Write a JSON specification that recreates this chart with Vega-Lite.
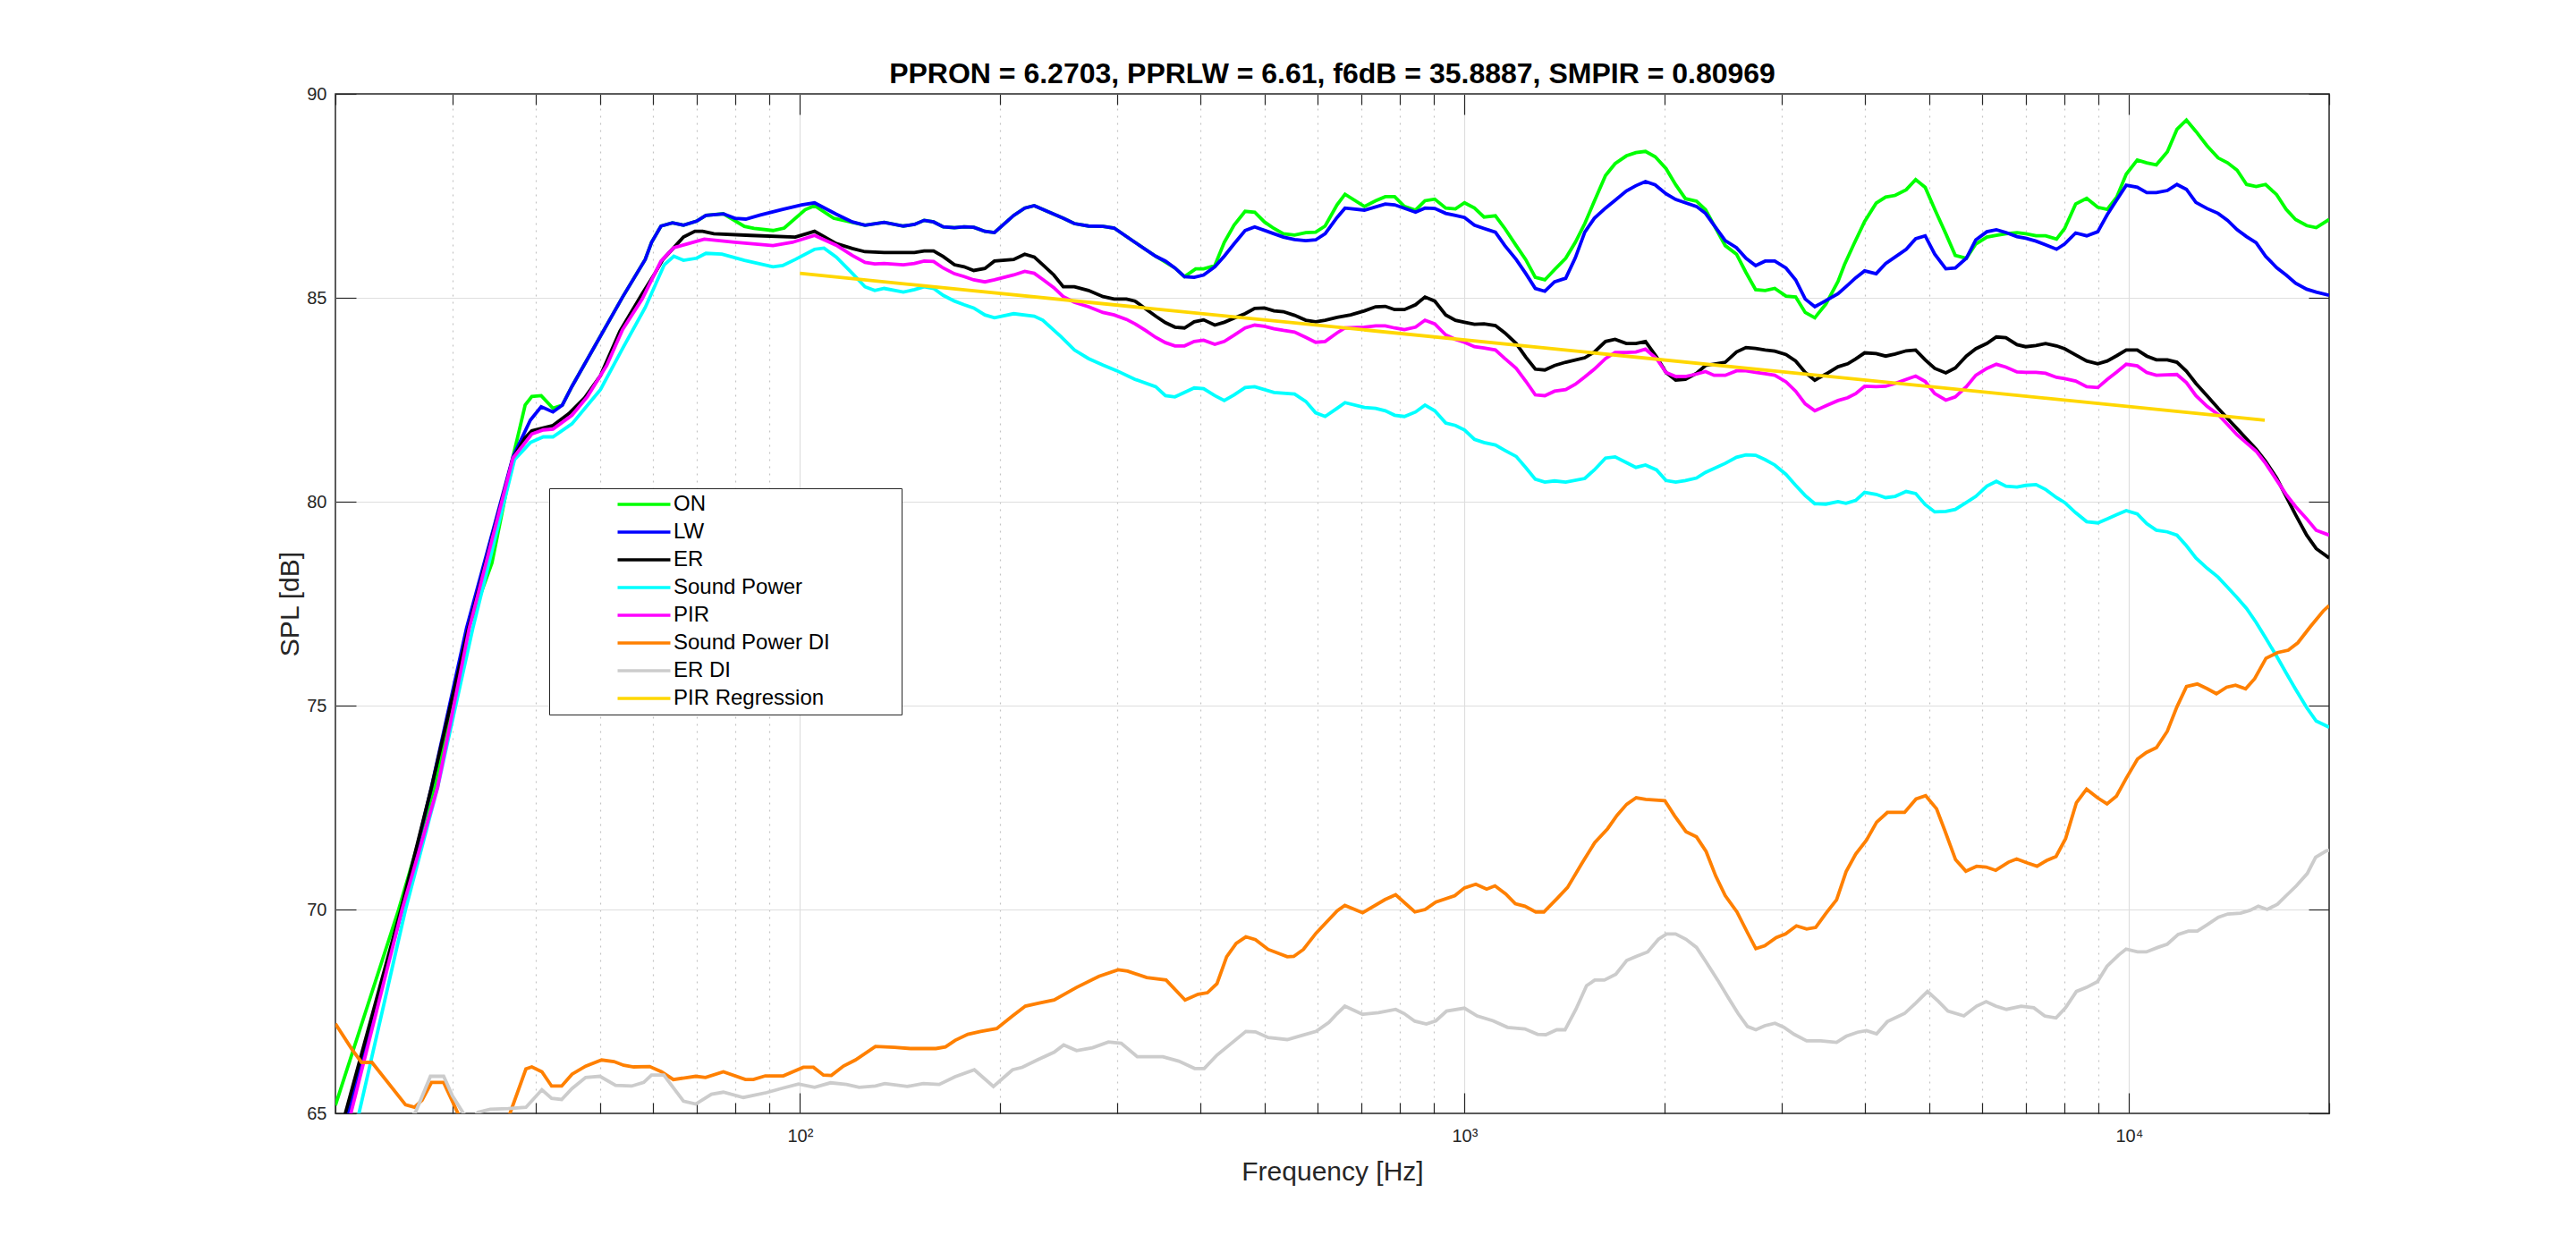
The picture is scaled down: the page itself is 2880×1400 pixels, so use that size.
{
"$schema": "https://vega.github.io/schema/vega-lite/v6.json",
"width": 2229,
"height": 1140,
"autosize": {"type": "none"},
"padding": {"left": 375, "top": 105, "right": 276, "bottom": 155},
"background": "white",
"title": {"text": "PPRON = 6.2703, PPRLW = 6.61, f6dB = 35.8887, SMPIR = 0.80969", "font": "Liberation Sans", "fontSize": 32, "fontWeight": "bold", "color": "black", "anchor": "middle", "frame": "group", "baseline": "alphabetic", "offset": -30},
"config": {
  "font": "Liberation Sans",
  "view": {"stroke": "#262626", "strokeWidth": 1.5},
  "axis": {"labelFont": "Liberation Sans", "labelFontSize": 20, "labelColor": "#262626", "titleFont": "Liberation Sans", "titleFontSize": 30, "titleFontWeight": "normal", "titleColor": "#262626", "domain": false, "tickColor": "#262626", "tickWidth": 1.2, "gridWidth": 1.2, "labelFlush": false, "labelOverlap": false}
},
"datasets": {
"ON": [{"f":20,"v":65.2},{"f":24.9,"v":70.0},{"f":28.2,"v":73.0},{"f":31.7,"v":76.9},{"f":34.4,"v":78.5},{"f":35.9,"v":80.0},{"f":37.0,"v":81.1},{"f":37.8,"v":81.74},{"f":38.6,"v":82.37},{"f":39.5,"v":82.58},{"f":40.8,"v":82.6},{"f":42.5,"v":82.29},{"f":43.9,"v":82.37},{"f":45.4,"v":82.83},{"f":54.1,"v":85.02},{"f":58.5,"v":85.94},{"f":59.8,"v":86.36},{"f":61.8,"v":86.76},{"f":64.3,"v":86.84},{"f":66.8,"v":86.78},{"f":69.9,"v":86.88},{"f":72.2,"v":87.02},{"f":76.7,"v":87.06},{"f":82.5,"v":86.75},{"f":85.3,"v":86.7},{"f":91.1,"v":86.65},{"f":94.7,"v":86.71},{"f":101.8,"v":87.16},{"f":105.2,"v":87.26},{"f":112.4,"v":86.95},{"f":119.9,"v":86.85},{"f":125.3,"v":86.78},{"f":133.9,"v":86.85},{"f":143.1,"v":86.76},{"f":148.7,"v":86.8},{"f":153.8,"v":86.9},{"f":158.9,"v":86.86},{"f":164.3,"v":86.74},{"f":170.8,"v":86.72},{"f":176.6,"v":86.74},{"f":182.6,"v":86.73},{"f":189.8,"v":86.63},{"f":196.2,"v":86.6},{"f":209.7,"v":87.02},{"f":217.9,"v":87.2},{"f":225.2,"v":87.26},{"f":235.5,"v":87.12},{"f":249,"v":86.95},{"f":258.8,"v":86.82},{"f":271.8,"v":86.76},{"f":285.8,"v":86.75},{"f":297,"v":86.71},{"f":319.3,"v":86.36},{"f":343,"v":86.02},{"f":366.7,"v":85.73},{"f":379,"v":85.52},{"f":394,"v":85.71},{"f":405,"v":85.71},{"f":421,"v":85.79},{"f":435,"v":86.36},{"f":450,"v":86.78},{"f":467.6,"v":87.12},{"f":483.4,"v":87.1},{"f":500,"v":86.86},{"f":516.8,"v":86.7},{"f":534,"v":86.57},{"f":555,"v":86.54},{"f":577,"v":86.6},{"f":597,"v":86.61},{"f":617,"v":86.76},{"f":643,"v":87.28},{"f":661,"v":87.54},{"f":707,"v":87.24},{"f":735,"v":87.38},{"f":760,"v":87.48},{"f":785,"v":87.48},{"f":812,"v":87.24},{"f":844,"v":87.15},{"f":872,"v":87.38},{"f":902,"v":87.42},{"f":937,"v":87.2},{"f":969,"v":87.18},{"f":1000,"v":87.33},{"f":1035,"v":87.2},{"f":1070,"v":86.98},{"f":1113,"v":87.01},{"f":1150,"v":86.7},{"f":1196,"v":86.28},{"f":1236,"v":85.94},{"f":1278,"v":85.5},{"f":1321,"v":85.44},{"f":1366,"v":85.69},{"f":1420,"v":85.97},{"f":1468,"v":86.36},{"f":1517,"v":86.82},{"f":1568,"v":87.37},{"f":1630,"v":88.0},{"f":1685,"v":88.29},{"f":1752,"v":88.48},{"f":1811,"v":88.56},{"f":1872,"v":88.59},{"f":1936,"v":88.46},{"f":2010,"v":88.17},{"f":2079,"v":87.77},{"f":2150,"v":87.43},{"f":2234,"v":87.37},{"f":2305,"v":87.16},{"f":2374,"v":86.78},{"f":2468,"v":86.28},{"f":2566,"v":86.07},{"f":2652,"v":85.62},{"f":2742,"v":85.2},{"f":2834,"v":85.18},{"f":2930,"v":85.23},{"f":3046,"v":85.04},{"f":3150,"v":85.02},{"f":3256,"v":84.64},{"f":3366,"v":84.51},{"f":3498,"v":84.85},{"f":3648,"v":85.4},{"f":3730,"v":85.81},{"f":3855,"v":86.32},{"f":4000,"v":86.87},{"f":4163,"v":87.32},{"f":4302,"v":87.47},{"f":4446,"v":87.51},{"f":4620,"v":87.65},{"f":4774,"v":87.9},{"f":4934,"v":87.71},{"f":5100,"v":87.17},{"f":5300,"v":86.57},{"f":5476,"v":86.04},{"f":5690,"v":85.97},{"f":5880,"v":86.32},{"f":6110,"v":86.49},{"f":6314,"v":86.53},{"f":6526,"v":86.57},{"f":6782,"v":86.6},{"f":6990,"v":86.57},{"f":7244,"v":86.52},{"f":7488,"v":86.52},{"f":7778,"v":86.44},{"f":8000,"v":86.7},{"f":8310,"v":87.3},{"f":8634,"v":87.44},{"f":8972,"v":87.22},{"f":9272,"v":87.17},{"f":9582,"v":87.47},{"f":9902,"v":88.03},{"f":10288,"v":88.38},{"f":10632,"v":88.31},{"f":10990,"v":88.26},{"f":11418,"v":88.58},{"f":11804,"v":89.13},{"f":12198,"v":89.36},{"f":12606,"v":89.08},{"f":13100,"v":88.73},{"f":13614,"v":88.43},{"f":14068,"v":88.31},{"f":14538,"v":88.13},{"f":15024,"v":87.78},{"f":15530,"v":87.73},{"f":16048,"v":87.78},{"f":16674,"v":87.53},{"f":17232,"v":87.17},{"f":17806,"v":86.92},{"f":18504,"v":86.77},{"f":19122,"v":86.72},{"f":20000,"v":86.92}],
"LW": [{"f":20,"v":63.8},{"f":20.9,"v":65.0},{"f":25.2,"v":70.0},{"f":27.9,"v":73.0},{"f":31.5,"v":76.9},{"f":37.0,"v":81.1},{"f":39.3,"v":82.0},{"f":40.8,"v":82.33},{"f":42.5,"v":82.2},{"f":43.9,"v":82.37},{"f":45.4,"v":82.83},{"f":54.1,"v":85.02},{"f":58.5,"v":85.94},{"f":59.8,"v":86.36},{"f":61.8,"v":86.76},{"f":64.3,"v":86.84},{"f":66.8,"v":86.78},{"f":69.9,"v":86.88},{"f":72.2,"v":87.02},{"f":76.7,"v":87.06},{"f":79.8,"v":86.95},{"f":82.9,"v":86.93},{"f":87.2,"v":87.03},{"f":94.2,"v":87.17},{"f":100.6,"v":87.28},{"f":105.2,"v":87.33},{"f":113.4,"v":87.05},{"f":119.9,"v":86.86},{"f":125.3,"v":86.78},{"f":133.9,"v":86.85},{"f":143.1,"v":86.76},{"f":148.7,"v":86.8},{"f":153.8,"v":86.9},{"f":158.9,"v":86.86},{"f":164.3,"v":86.74},{"f":170.8,"v":86.72},{"f":176.6,"v":86.74},{"f":182.6,"v":86.73},{"f":189.8,"v":86.63},{"f":196.2,"v":86.6},{"f":209.7,"v":87.02},{"f":217.9,"v":87.2},{"f":225.2,"v":87.26},{"f":235.5,"v":87.12},{"f":249,"v":86.95},{"f":258.8,"v":86.82},{"f":271.8,"v":86.76},{"f":285.8,"v":86.75},{"f":297,"v":86.71},{"f":319.3,"v":86.36},{"f":343,"v":86.02},{"f":354.8,"v":85.9},{"f":366.7,"v":85.73},{"f":379,"v":85.52},{"f":392,"v":85.5},{"f":405,"v":85.56},{"f":421,"v":85.76},{"f":435,"v":86.02},{"f":450,"v":86.32},{"f":467.6,"v":86.65},{"f":483.4,"v":86.74},{"f":516.8,"v":86.57},{"f":534,"v":86.49},{"f":555,"v":86.43},{"f":577,"v":86.4},{"f":597,"v":86.42},{"f":617,"v":86.57},{"f":643,"v":86.97},{"f":661,"v":87.2},{"f":707,"v":87.15},{"f":760,"v":87.3},{"f":785,"v":87.28},{"f":844,"v":87.1},{"f":872,"v":87.2},{"f":902,"v":87.19},{"f":937,"v":87.07},{"f":969,"v":87.02},{"f":1000,"v":86.97},{"f":1035,"v":86.78},{"f":1070,"v":86.7},{"f":1113,"v":86.61},{"f":1150,"v":86.28},{"f":1196,"v":85.94},{"f":1236,"v":85.6},{"f":1278,"v":85.23},{"f":1321,"v":85.16},{"f":1366,"v":85.39},{"f":1420,"v":85.48},{"f":1468,"v":85.98},{"f":1517,"v":86.61},{"f":1568,"v":86.95},{"f":1630,"v":87.2},{"f":1685,"v":87.39},{"f":1752,"v":87.62},{"f":1811,"v":87.75},{"f":1872,"v":87.85},{"f":1936,"v":87.77},{"f":2010,"v":87.55},{"f":2079,"v":87.41},{"f":2150,"v":87.33},{"f":2234,"v":87.24},{"f":2305,"v":87.07},{"f":2374,"v":86.78},{"f":2468,"v":86.4},{"f":2566,"v":86.23},{"f":2652,"v":85.97},{"f":2742,"v":85.79},{"f":2834,"v":85.9},{"f":2930,"v":85.9},{"f":3046,"v":85.73},{"f":3150,"v":85.44},{"f":3256,"v":84.97},{"f":3366,"v":84.78},{"f":3498,"v":84.93},{"f":3648,"v":85.1},{"f":3772,"v":85.31},{"f":3878,"v":85.49},{"f":4000,"v":85.66},{"f":4163,"v":85.59},{"f":4302,"v":85.84},{"f":4446,"v":86.0},{"f":4620,"v":86.19},{"f":4774,"v":86.45},{"f":4934,"v":86.52},{"f":5100,"v":86.07},{"f":5300,"v":85.71},{"f":5476,"v":85.73},{"f":5690,"v":85.97},{"f":5880,"v":86.42},{"f":6110,"v":86.62},{"f":6314,"v":86.67},{"f":6526,"v":86.6},{"f":6782,"v":86.5},{"f":6990,"v":86.46},{"f":7244,"v":86.39},{"f":7488,"v":86.3},{"f":7778,"v":86.19},{"f":8000,"v":86.32},{"f":8310,"v":86.59},{"f":8634,"v":86.52},{"f":8972,"v":86.62},{"f":9272,"v":87.04},{"f":9582,"v":87.4},{"f":9902,"v":87.76},{"f":10288,"v":87.71},{"f":10632,"v":87.58},{"f":10990,"v":87.58},{"f":11418,"v":87.63},{"f":11804,"v":87.78},{"f":12198,"v":87.66},{"f":12606,"v":87.34},{"f":13100,"v":87.19},{"f":13614,"v":87.07},{"f":14068,"v":86.9},{"f":14538,"v":86.67},{"f":15024,"v":86.5},{"f":15530,"v":86.35},{"f":16048,"v":86.02},{"f":16674,"v":85.74},{"f":17232,"v":85.56},{"f":17806,"v":85.36},{"f":18504,"v":85.21},{"f":19122,"v":85.14},{"f":20000,"v":85.06}],
"ER": [{"f":20,"v":64.1},{"f":20.7,"v":65.0},{"f":25.1,"v":70.0},{"f":27.9,"v":73.0},{"f":31.6,"v":76.8},{"f":37.0,"v":81.07},{"f":38.6,"v":81.57},{"f":39.5,"v":81.74},{"f":42.5,"v":81.87},{"f":44.9,"v":82.16},{"f":47.4,"v":82.54},{"f":50.1,"v":83.09},{"f":53.6,"v":84.18},{"f":57.9,"v":85.1},{"f":60.5,"v":85.6},{"f":62.2,"v":85.94},{"f":64.6,"v":86.23},{"f":66.8,"v":86.49},{"f":69.5,"v":86.63},{"f":71.4,"v":86.63},{"f":74.2,"v":86.57},{"f":84.3,"v":86.53},{"f":98.4,"v":86.49},{"f":102.3,"v":86.57},{"f":105.2,"v":86.63},{"f":113.4,"v":86.33},{"f":119.9,"v":86.21},{"f":125.3,"v":86.13},{"f":133.9,"v":86.11},{"f":148.7,"v":86.11},{"f":153.8,"v":86.15},{"f":158.9,"v":86.15},{"f":164.3,"v":86.01},{"f":170.8,"v":85.81},{"f":176.6,"v":85.76},{"f":182.6,"v":85.67},{"f":189.8,"v":85.72},{"f":196.2,"v":85.9},{"f":209.7,"v":85.94},{"f":217.9,"v":86.07},{"f":225.2,"v":86.0},{"f":232,"v":85.81},{"f":241,"v":85.56},{"f":249,"v":85.27},{"f":258.8,"v":85.27},{"f":271.8,"v":85.18},{"f":285.8,"v":85.03},{"f":297,"v":84.97},{"f":310,"v":84.97},{"f":319.3,"v":84.92},{"f":331.8,"v":84.72},{"f":343,"v":84.55},{"f":354.8,"v":84.39},{"f":366.7,"v":84.28},{"f":379,"v":84.26},{"f":392,"v":84.41},{"f":405,"v":84.46},{"f":421,"v":84.33},{"f":435,"v":84.4},{"f":450,"v":84.5},{"f":467.6,"v":84.61},{"f":483.4,"v":84.74},{"f":500,"v":84.75},{"f":516.8,"v":84.68},{"f":534,"v":84.66},{"f":555,"v":84.57},{"f":577,"v":84.45},{"f":597,"v":84.41},{"f":617,"v":84.45},{"f":643,"v":84.52},{"f":674,"v":84.58},{"f":707,"v":84.68},{"f":735,"v":84.78},{"f":760,"v":84.79},{"f":785,"v":84.71},{"f":812,"v":84.71},{"f":844,"v":84.83},{"f":872,"v":85.02},{"f":902,"v":84.92},{"f":937,"v":84.58},{"f":969,"v":84.45},{"f":1000,"v":84.4},{"f":1035,"v":84.35},{"f":1070,"v":84.36},{"f":1113,"v":84.32},{"f":1150,"v":84.14},{"f":1196,"v":83.88},{"f":1236,"v":83.55},{"f":1278,"v":83.25},{"f":1321,"v":83.23},{"f":1366,"v":83.34},{"f":1420,"v":83.42},{"f":1517,"v":83.53},{"f":1568,"v":83.67},{"f":1630,"v":83.93},{"f":1685,"v":83.98},{"f":1752,"v":83.88},{"f":1811,"v":83.88},{"f":1872,"v":83.93},{"f":1945,"v":83.55},{"f":2010,"v":83.17},{"f":2079,"v":82.98},{"f":2150,"v":83.0},{"f":2234,"v":83.15},{"f":2305,"v":83.34},{"f":2468,"v":83.42},{"f":2566,"v":83.67},{"f":2652,"v":83.78},{"f":2742,"v":83.76},{"f":2834,"v":83.72},{"f":2930,"v":83.69},{"f":3046,"v":83.61},{"f":3150,"v":83.45},{"f":3256,"v":83.17},{"f":3366,"v":82.98},{"f":3498,"v":83.13},{"f":3648,"v":83.31},{"f":3772,"v":83.38},{"f":3878,"v":83.5},{"f":4000,"v":83.65},{"f":4163,"v":83.63},{"f":4302,"v":83.57},{"f":4446,"v":83.62},{"f":4620,"v":83.7},{"f":4774,"v":83.72},{"f":4934,"v":83.48},{"f":5100,"v":83.27},{"f":5300,"v":83.16},{"f":5476,"v":83.28},{"f":5690,"v":83.57},{"f":5880,"v":83.75},{"f":6110,"v":83.88},{"f":6314,"v":84.04},{"f":6526,"v":84.02},{"f":6782,"v":83.85},{"f":6990,"v":83.8},{"f":7244,"v":83.83},{"f":7488,"v":83.88},{"f":7778,"v":83.82},{"f":8000,"v":83.75},{"f":8310,"v":83.6},{"f":8634,"v":83.45},{"f":8972,"v":83.38},{"f":9272,"v":83.45},{"f":9582,"v":83.58},{"f":9902,"v":83.72},{"f":10288,"v":83.72},{"f":10632,"v":83.57},{"f":10990,"v":83.48},{"f":11418,"v":83.48},{"f":11804,"v":83.42},{"f":12198,"v":83.2},{"f":12606,"v":82.9},{"f":13100,"v":82.6},{"f":13614,"v":82.29},{"f":14068,"v":82.04},{"f":14538,"v":81.79},{"f":15024,"v":81.54},{"f":15530,"v":81.29},{"f":16048,"v":80.99},{"f":16674,"v":80.58},{"f":17232,"v":80.13},{"f":17806,"v":79.68},{"f":18504,"v":79.18},{"f":19122,"v":78.85},{"f":20000,"v":78.62}],
"SP": [{"f":20,"v":62.7},{"f":21.7,"v":65.0},{"f":25.5,"v":70.0},{"f":28.5,"v":73.0},{"f":32.2,"v":76.9},{"f":37.2,"v":81.03},{"f":39.3,"v":81.45},{"f":41.1,"v":81.59},{"f":42.5,"v":81.59},{"f":45.4,"v":81.91},{"f":50.1,"v":82.75},{"f":54.1,"v":83.76},{"f":58.5,"v":84.76},{"f":62.5,"v":85.81},{"f":64.6,"v":86.02},{"f":66.8,"v":85.92},{"f":69.9,"v":85.97},{"f":72.2,"v":86.09},{"f":76.3,"v":86.07},{"f":82.5,"v":85.92},{"f":91.1,"v":85.76},{"f":94.2,"v":85.79},{"f":98.4,"v":85.94},{"f":105.2,"v":86.19},{"f":108.7,"v":86.22},{"f":113.4,"v":86.0},{"f":119.9,"v":85.6},{"f":125.3,"v":85.27},{"f":129.6,"v":85.18},{"f":133.9,"v":85.23},{"f":143.1,"v":85.14},{"f":148.7,"v":85.2},{"f":153.8,"v":85.27},{"f":158.9,"v":85.23},{"f":164.3,"v":85.06},{"f":170.8,"v":84.92},{"f":176.6,"v":84.83},{"f":182.6,"v":84.75},{"f":189.8,"v":84.58},{"f":196.2,"v":84.51},{"f":209.7,"v":84.61},{"f":225.2,"v":84.55},{"f":232,"v":84.45},{"f":247,"v":84.05},{"f":258.8,"v":83.72},{"f":271.8,"v":83.51},{"f":285.8,"v":83.35},{"f":300,"v":83.21},{"f":319.3,"v":83.0},{"f":343,"v":82.82},{"f":354.8,"v":82.6},{"f":366.7,"v":82.57},{"f":392,"v":82.79},{"f":405,"v":82.77},{"f":421,"v":82.6},{"f":435,"v":82.48},{"f":450,"v":82.62},{"f":467.6,"v":82.8},{"f":483.4,"v":82.82},{"f":516.8,"v":82.68},{"f":555,"v":82.64},{"f":577,"v":82.46},{"f":597,"v":82.18},{"f":617,"v":82.09},{"f":643,"v":82.29},{"f":661,"v":82.43},{"f":707,"v":82.31},{"f":735,"v":82.29},{"f":760,"v":82.23},{"f":785,"v":82.12},{"f":812,"v":82.09},{"f":844,"v":82.2},{"f":872,"v":82.37},{"f":902,"v":82.23},{"f":937,"v":81.93},{"f":969,"v":81.87},{"f":1000,"v":81.76},{"f":1035,"v":81.53},{"f":1070,"v":81.45},{"f":1113,"v":81.39},{"f":1150,"v":81.26},{"f":1196,"v":81.11},{"f":1236,"v":80.84},{"f":1278,"v":80.55},{"f":1321,"v":80.48},{"f":1366,"v":80.51},{"f":1420,"v":80.48},{"f":1517,"v":80.57},{"f":1568,"v":80.78},{"f":1630,"v":81.07},{"f":1685,"v":81.1},{"f":1752,"v":80.96},{"f":1811,"v":80.84},{"f":1872,"v":80.9},{"f":1945,"v":80.78},{"f":2010,"v":80.52},{"f":2079,"v":80.48},{"f":2150,"v":80.52},{"f":2234,"v":80.58},{"f":2305,"v":80.72},{"f":2468,"v":80.94},{"f":2566,"v":81.09},{"f":2652,"v":81.15},{"f":2742,"v":81.14},{"f":2834,"v":81.03},{"f":2930,"v":80.9},{"f":3046,"v":80.67},{"f":3150,"v":80.4},{"f":3256,"v":80.15},{"f":3366,"v":79.95},{"f":3498,"v":79.94},{"f":3648,"v":80.0},{"f":3750,"v":79.96},{"f":3878,"v":80.03},{"f":4000,"v":80.23},{"f":4163,"v":80.18},{"f":4302,"v":80.1},{"f":4446,"v":80.13},{"f":4620,"v":80.25},{"f":4774,"v":80.2},{"f":4934,"v":79.93},{"f":5100,"v":79.75},{"f":5300,"v":79.76},{"f":5476,"v":79.81},{"f":5690,"v":79.98},{"f":5880,"v":80.13},{"f":6110,"v":80.38},{"f":6314,"v":80.5},{"f":6526,"v":80.38},{"f":6782,"v":80.36},{"f":6990,"v":80.4},{"f":7244,"v":80.42},{"f":7488,"v":80.3},{"f":7778,"v":80.1},{"f":8000,"v":79.98},{"f":8310,"v":79.73},{"f":8634,"v":79.51},{"f":8972,"v":79.48},{"f":9272,"v":79.58},{"f":9582,"v":79.68},{"f":9902,"v":79.78},{"f":10288,"v":79.7},{"f":10632,"v":79.46},{"f":10990,"v":79.3},{"f":11418,"v":79.26},{"f":11804,"v":79.18},{"f":12198,"v":78.92},{"f":12606,"v":78.62},{"f":13100,"v":78.37},{"f":13614,"v":78.15},{"f":14068,"v":77.9},{"f":14538,"v":77.65},{"f":15024,"v":77.38},{"f":15530,"v":77.04},{"f":16048,"v":76.66},{"f":16674,"v":76.21},{"f":17232,"v":75.8},{"f":17806,"v":75.4},{"f":18504,"v":74.95},{"f":19122,"v":74.62},{"f":20000,"v":74.47}],
"PIR": [{"f":20,"v":63.5},{"f":21.1,"v":65.0},{"f":25.2,"v":70.0},{"f":28.5,"v":73.0},{"f":31.8,"v":76.9},{"f":37.0,"v":81.07},{"f":39.5,"v":81.66},{"f":41.1,"v":81.76},{"f":42.5,"v":81.78},{"f":45.4,"v":82.12},{"f":47.9,"v":82.58},{"f":51.2,"v":83.34},{"f":54.1,"v":84.22},{"f":57.9,"v":84.97},{"f":61.8,"v":85.9},{"f":64.6,"v":86.23},{"f":67.6,"v":86.32},{"f":71.8,"v":86.44},{"f":79.8,"v":86.36},{"f":91.1,"v":86.28},{"f":97.4,"v":86.36},{"f":105.2,"v":86.53},{"f":113.4,"v":86.29},{"f":119.9,"v":86.04},{"f":125.3,"v":85.87},{"f":129.6,"v":85.83},{"f":133.9,"v":85.84},{"f":143.1,"v":85.81},{"f":148.7,"v":85.84},{"f":153.8,"v":85.9},{"f":158.9,"v":85.89},{"f":164.3,"v":85.73},{"f":170.8,"v":85.59},{"f":176.6,"v":85.52},{"f":182.6,"v":85.44},{"f":189.8,"v":85.39},{"f":196.2,"v":85.44},{"f":209.7,"v":85.56},{"f":217.9,"v":85.65},{"f":225.2,"v":85.6},{"f":232,"v":85.45},{"f":241,"v":85.25},{"f":249,"v":85.03},{"f":258.8,"v":84.89},{"f":271.8,"v":84.78},{"f":285.8,"v":84.64},{"f":297,"v":84.58},{"f":310,"v":84.47},{"f":319.3,"v":84.36},{"f":331.8,"v":84.19},{"f":343,"v":84.03},{"f":354.8,"v":83.9},{"f":366.7,"v":83.82},{"f":379,"v":83.82},{"f":392,"v":83.93},{"f":405,"v":83.96},{"f":421,"v":83.86},{"f":435,"v":83.93},{"f":450,"v":84.08},{"f":467.6,"v":84.26},{"f":483.4,"v":84.33},{"f":500,"v":84.3},{"f":516.8,"v":84.24},{"f":534,"v":84.2},{"f":555,"v":84.16},{"f":577,"v":84.03},{"f":597,"v":83.91},{"f":617,"v":83.93},{"f":643,"v":84.14},{"f":661,"v":84.26},{"f":707,"v":84.28},{"f":735,"v":84.31},{"f":760,"v":84.31},{"f":785,"v":84.26},{"f":812,"v":84.22},{"f":844,"v":84.28},{"f":872,"v":84.45},{"f":902,"v":84.36},{"f":937,"v":84.09},{"f":969,"v":83.98},{"f":1000,"v":83.91},{"f":1035,"v":83.8},{"f":1070,"v":83.77},{"f":1113,"v":83.72},{"f":1150,"v":83.51},{"f":1196,"v":83.27},{"f":1236,"v":82.96},{"f":1278,"v":82.62},{"f":1321,"v":82.6},{"f":1366,"v":82.71},{"f":1420,"v":82.75},{"f":1468,"v":82.88},{"f":1517,"v":83.06},{"f":1568,"v":83.25},{"f":1630,"v":83.51},{"f":1685,"v":83.66},{"f":1752,"v":83.66},{"f":1811,"v":83.67},{"f":1872,"v":83.74},{"f":1945,"v":83.51},{"f":2010,"v":83.17},{"f":2079,"v":83.07},{"f":2150,"v":83.07},{"f":2234,"v":83.13},{"f":2305,"v":83.19},{"f":2374,"v":83.1},{"f":2468,"v":83.1},{"f":2566,"v":83.21},{"f":2652,"v":83.21},{"f":2742,"v":83.17},{"f":2834,"v":83.14},{"f":2930,"v":83.1},{"f":3046,"v":82.94},{"f":3150,"v":82.71},{"f":3256,"v":82.4},{"f":3366,"v":82.23},{"f":3498,"v":82.35},{"f":3648,"v":82.48},{"f":3772,"v":82.55},{"f":3878,"v":82.65},{"f":4000,"v":82.83},{"f":4163,"v":82.82},{"f":4302,"v":82.83},{"f":4446,"v":82.9},{"f":4620,"v":83.0},{"f":4774,"v":83.08},{"f":4934,"v":82.95},{"f":5100,"v":82.65},{"f":5300,"v":82.49},{"f":5476,"v":82.57},{"f":5690,"v":82.82},{"f":5880,"v":83.1},{"f":6110,"v":83.27},{"f":6314,"v":83.37},{"f":6526,"v":83.3},{"f":6782,"v":83.18},{"f":6990,"v":83.17},{"f":7244,"v":83.17},{"f":7488,"v":83.15},{"f":7778,"v":83.05},{"f":8000,"v":83.02},{"f":8310,"v":82.96},{"f":8634,"v":82.82},{"f":8972,"v":82.8},{"f":9272,"v":83.0},{"f":9582,"v":83.18},{"f":9902,"v":83.37},{"f":10288,"v":83.33},{"f":10632,"v":83.17},{"f":10990,"v":83.1},{"f":11418,"v":83.11},{"f":11804,"v":83.12},{"f":12198,"v":82.92},{"f":12606,"v":82.6},{"f":13100,"v":82.34},{"f":13614,"v":82.14},{"f":14068,"v":81.89},{"f":14538,"v":81.64},{"f":15024,"v":81.44},{"f":15530,"v":81.24},{"f":16048,"v":80.94},{"f":16674,"v":80.53},{"f":17232,"v":80.18},{"f":17806,"v":79.88},{"f":18504,"v":79.58},{"f":19122,"v":79.3},{"f":20000,"v":79.18}],
"SPDI": [{"f":20,"v":67.2},{"f":21.2,"v":66.56},{"f":21.9,"v":66.25},{"f":22.7,"v":66.25},{"f":25.5,"v":65.21},{"f":26.3,"v":65.15},{"f":27.0,"v":65.32},{"f":27.9,"v":65.76},{"f":29.1,"v":65.76},{"f":30.6,"v":64.99},{"f":33.5,"v":64.4},{"f":36.6,"v":64.99},{"f":38.7,"v":66.09},{"f":39.5,"v":66.14},{"f":40.9,"v":66.02},{"f":42.3,"v":65.67},{"f":43.8,"v":65.67},{"f":45.4,"v":65.96},{"f":47.6,"v":66.16},{"f":50.3,"v":66.31},{"f":52.5,"v":66.27},{"f":54.3,"v":66.18},{"f":56.2,"v":66.14},{"f":59.4,"v":66.15},{"f":61.9,"v":66.02},{"f":64.5,"v":65.83},{"f":69.7,"v":65.91},{"f":72.1,"v":65.88},{"f":76.7,"v":66.02},{"f":82.8,"v":65.83},{"f":85.1,"v":65.83},{"f":88.7,"v":65.92},{"f":94.4,"v":65.92},{"f":101.2,"v":66.13},{"f":104.8,"v":66.13},{"f":108.5,"v":65.94},{"f":111.5,"v":65.93},{"f":116.3,"v":66.16},{"f":121.2,"v":66.31},{"f":129.9,"v":66.64},{"f":138.7,"v":66.62},{"f":146.7,"v":66.59},{"f":160.2,"v":66.59},{"f":165.6,"v":66.63},{"f":171.2,"v":66.79},{"f":178.9,"v":66.94},{"f":187.0,"v":67.01},{"f":197.7,"v":67.08},{"f":208.9,"v":67.39},{"f":218.4,"v":67.63},{"f":228.3,"v":67.7},{"f":241.3,"v":67.78},{"f":260.8,"v":68.09},{"f":281.8,"v":68.36},{"f":301.2,"v":68.52},{"f":311.2,"v":68.49},{"f":332.6,"v":68.33},{"f":355.6,"v":68.27},{"f":379.8,"v":67.78},{"f":397.2,"v":67.92},{"f":410.4,"v":67.96},{"f":424.2,"v":68.18},{"f":438.6,"v":68.84},{"f":453.4,"v":69.17},{"f":468.8,"v":69.33},{"f":484.6,"v":69.26},{"f":506.6,"v":69.02},{"f":541.2,"v":68.84},{"f":553.4,"v":68.85},{"f":572.2,"v":69.02},{"f":598,"v":69.42},{"f":643.4,"v":69.97},{"f":660.6,"v":70.1},{"f":702.6,"v":69.92},{"f":758.8,"v":70.24},{"f":787.8,"v":70.36},{"f":842,"v":69.94},{"f":872.4,"v":70.0},{"f":905.4,"v":70.18},{"f":967.2,"v":70.34},{"f":999.6,"v":70.53},{"f":1040,"v":70.62},{"f":1079.8,"v":70.5},{"f":1111.4,"v":70.58},{"f":1153.8,"v":70.38},{"f":1192.6,"v":70.14},{"f":1232.8,"v":70.08},{"f":1279.8,"v":69.94},{"f":1316.8,"v":69.94},{"f":1376.6,"v":70.26},{"f":1429,"v":70.54},{"f":1503,"v":71.14},{"f":1570.4,"v":71.64},{"f":1641.8,"v":71.98},{"f":1696.4,"v":72.31},{"f":1754,"v":72.58},{"f":1812.8,"v":72.74},{"f":1873.8,"v":72.7},{"f":2002,"v":72.67},{"f":2070,"v":72.3},{"f":2154,"v":71.91},{"f":2234,"v":71.78},{"f":2310,"v":71.42},{"f":2388,"v":70.82},{"f":2468,"v":70.34},{"f":2570,"v":69.94},{"f":2666,"v":69.43},{"f":2744,"v":69.04},{"f":2830,"v":69.11},{"f":2944,"v":69.31},{"f":3042,"v":69.4},{"f":3158,"v":69.6},{"f":3272,"v":69.52},{"f":3376,"v":69.56},{"f":3496,"v":69.9},{"f":3630,"v":70.24},{"f":3752,"v":70.93},{"f":3878,"v":71.36},{"f":4026,"v":71.7},{"f":4170,"v":72.14},{"f":4328,"v":72.38},{"f":4594,"v":72.38},{"f":4780,"v":72.71},{"f":4942,"v":72.79},{"f":5132,"v":72.47},{"f":5280,"v":71.94},{"f":5482,"v":71.22},{"f":5680,"v":70.94},{"f":5896,"v":71.06},{"f":6094,"v":71.04},{"f":6300,"v":70.96},{"f":6584,"v":71.16},{"f":6774,"v":71.24},{"f":7032,"v":71.14},{"f":7270,"v":71.06},{"f":7514,"v":71.2},{"f":7764,"v":71.3},{"f":8026,"v":71.74},{"f":8332,"v":72.62},{"f":8630,"v":72.95},{"f":8962,"v":72.74},{"f":9264,"v":72.59},{"f":9572,"v":72.78},{"f":9896,"v":73.21},{"f":10296,"v":73.69},{"f":10616,"v":73.85},{"f":10996,"v":73.97},{"f":11416,"v":74.37},{"f":11804,"v":74.97},{"f":12202,"v":75.47},{"f":12668,"v":75.53},{"f":13120,"v":75.41},{"f":13534,"v":75.29},{"f":14020,"v":75.45},{"f":14462,"v":75.5},{"f":14976,"v":75.41},{"f":15450,"v":75.66},{"f":16070,"v":76.16},{"f":16720,"v":76.3},{"f":17360,"v":76.36},{"f":17946,"v":76.54},{"f":18752,"v":76.94},{"f":19594,"v":77.32},{"f":20000,"v":77.45}],
"ERDI": [{"f":20,"v":63.0},{"f":24.5,"v":64.5},{"f":26.4,"v":65.03},{"f":27.8,"v":65.91},{"f":29.1,"v":65.91},{"f":30.0,"v":65.43},{"f":31.2,"v":64.99},{"f":32.0,"v":64.85},{"f":32.8,"v":65.03},{"f":34.2,"v":65.1},{"f":36.4,"v":65.12},{"f":38.7,"v":65.15},{"f":40.9,"v":65.58},{"f":42.3,"v":65.37},{"f":43.8,"v":65.34},{"f":45.4,"v":65.61},{"f":47.6,"v":65.88},{"f":50.0,"v":65.91},{"f":52.8,"v":65.69},{"f":55.8,"v":65.67},{"f":58.2,"v":65.76},{"f":59.8,"v":65.94},{"f":62.4,"v":65.94},{"f":66.8,"v":65.3},{"f":69.7,"v":65.23},{"f":73.6,"v":65.47},{"f":76.7,"v":65.52},{"f":82.2,"v":65.39},{"f":89.1,"v":65.51},{"f":94.2,"v":65.62},{"f":99.5,"v":65.72},{"f":105.2,"v":65.64},{"f":111.2,"v":65.75},{"f":117.5,"v":65.71},{"f":122.8,"v":65.64},{"f":129.9,"v":65.67},{"f":134.2,"v":65.73},{"f":145.0,"v":65.66},{"f":153.3,"v":65.73},{"f":162.0,"v":65.71},{"f":171.2,"v":65.9},{"f":183.0,"v":66.07},{"f":195.5,"v":65.66},{"f":208.9,"v":66.07},{"f":216.0,"v":66.13},{"f":228.3,"v":66.32},{"f":241.3,"v":66.5},{"f":249.4,"v":66.68},{"f":260.8,"v":66.54},{"f":275.6,"v":66.61},{"f":291.2,"v":66.75},{"f":304.4,"v":66.72},{"f":321.8,"v":66.39},{"f":351.6,"v":66.39},{"f":371.6,"v":66.28},{"f":392.6,"v":66.1},{"f":405.8,"v":66.1},{"f":424.2,"v":66.43},{"f":468.8,"v":67.01},{"f":484.6,"v":67.0},{"f":506.6,"v":66.86},{"f":541.2,"v":66.81},{"f":565.8,"v":66.9},{"f":598,"v":67.01},{"f":625,"v":67.23},{"f":643.4,"v":67.45},{"f":660.6,"v":67.63},{"f":702.6,"v":67.43},{"f":742.4,"v":67.47},{"f":787.8,"v":67.55},{"f":811,"v":67.45},{"f":842,"v":67.26},{"f":876.2,"v":67.19},{"f":905.4,"v":67.27},{"f":939.8,"v":67.51},{"f":999.6,"v":67.58},{"f":1044.8,"v":67.39},{"f":1104.2,"v":67.27},{"f":1161,"v":67.11},{"f":1232.8,"v":67.07},{"f":1288,"v":66.94},{"f":1325.8,"v":66.93},{"f":1376.6,"v":67.05},{"f":1416.6,"v":67.05},{"f":1470.8,"v":67.55},{"f":1526.4,"v":68.13},{"f":1570.4,"v":68.27},{"f":1623.4,"v":68.27},{"f":1689,"v":68.41},{"f":1754,"v":68.75},{"f":1812.8,"v":68.85},{"f":1886.4,"v":68.96},{"f":1958.6,"v":69.27},{"f":2014,"v":69.4},{"f":2078,"v":69.4},{"f":2154,"v":69.27},{"f":2234,"v":69.07},{"f":2310,"v":68.71},{"f":2404,"v":68.27},{"f":2496,"v":67.83},{"f":2580,"v":67.45},{"f":2666,"v":67.13},{"f":2744,"v":67.05},{"f":2830,"v":67.15},{"f":2932,"v":67.21},{"f":3024,"v":67.11},{"f":3132,"v":66.94},{"f":3272,"v":66.78},{"f":3436,"v":66.78},{"f":3630,"v":66.74},{"f":3752,"v":66.89},{"f":3904,"v":66.99},{"f":4026,"v":67.03},{"f":4170,"v":66.95},{"f":4328,"v":67.25},{"f":4594,"v":67.45},{"f":4780,"v":67.71},{"f":4974,"v":67.99},{"f":5164,"v":67.75},{"f":5338,"v":67.51},{"f":5642,"v":67.39},{"f":5896,"v":67.63},{"f":6094,"v":67.74},{"f":6300,"v":67.63},{"f":6538,"v":67.55},{"f":6880,"v":67.63},{"f":7188,"v":67.59},{"f":7464,"v":67.39},{"f":7764,"v":67.34},{"f":8026,"v":67.59},{"f":8332,"v":67.99},{"f":8630,"v":68.09},{"f":8962,"v":68.23},{"f":9264,"v":68.61},{"f":9638,"v":68.88},{"f":9896,"v":69.03},{"f":10296,"v":68.96},{"f":10616,"v":68.96},{"f":11050,"v":69.07},{"f":11416,"v":69.15},{"f":11854,"v":69.39},{"f":12282,"v":69.47},{"f":12668,"v":69.47},{"f":13120,"v":69.63},{"f":13624,"v":69.81},{"f":14078,"v":69.89},{"f":14712,"v":69.91},{"f":15206,"v":69.98},{"f":15650,"v":70.08},{"f":16140,"v":70.0},{"f":16720,"v":70.13},{"f":17236,"v":70.34},{"f":17854,"v":70.58},{"f":18540,"v":70.88},{"f":19086,"v":71.28},{"f":19816,"v":71.44},{"f":20000,"v":71.45}],
"REG": [{"f":100,"v":85.6},{"f":16000,"v":82.0}]
},
"layer": [
{"data": {"name": "ON"}, "mark": {"type": "line", "strokeWidth": 3.8, "clip": true},
 "encoding": {
  "x": {"field": "f", "type": "quantitative", "scale": {"type": "log", "domain": [20, 20000], "nice": false},
    "axis": {"orient": "bottom", "title": "Frequency [Hz]", "values": [20,30,40,50,60,70,80,90,100,200,300,400,500,600,700,800,900,1000,2000,3000,4000,5000,6000,7000,8000,9000,10000,20000],
      "labelExpr": "datum.value == 100 ? '10²' : datum.value == 1000 ? '10³' : datum.value == 10000 ? '10⁴' : ''",
      "grid": true,
      "gridDash": {"condition": {"test": "datum.value == 100 || datum.value == 1000 || datum.value == 10000", "value": []}, "value": [2, 6]},
      "gridColor": {"condition": {"test": "datum.value == 100 || datum.value == 1000 || datum.value == 10000", "value": "#dedede"}, "value": "#c4c4c4"},
      "gridOpacity": {"condition": {"test": "datum.value == 20 || datum.value == 20000", "value": 0}, "value": 1},
      "tickSize": {"condition": {"test": "datum.value == 100 || datum.value == 1000 || datum.value == 10000", "value": -23}, "value": -12},
      "labelPadding": 38, "titlePadding": 4}},
  "y": {"field": "v", "type": "quantitative", "scale": {"domain": [65, 90], "nice": false, "zero": false},
    "axis": {"orient": "left", "title": "SPL [dB]", "values": [65,70,75,80,85,90], "grid": true, "gridColor": "#dedede",
      "gridOpacity": {"condition": {"test": "datum.value == 65 || datum.value == 90", "value": 0}, "value": 1},
      "tickSize": -23, "labelPadding": 33, "titlePadding": 3}},
  "color": {"datum": "ON", "type": "nominal",
    "scale": {"domain": ["ON","LW","ER","Sound Power","PIR","Sound Power DI","ER DI","PIR Regression"], "range": ["#00ff00","#0000ff","#000000","#00ffff","#ff00ff","#ff8000","#cccccc","#ffd700"]},
    "legend": {"orient": "none", "legendX": 239, "legendY": 441, "title": null, "direction": "vertical",
      "labelFont": "Liberation Sans", "labelFontSize": 24, "labelColor": "black",
      "symbolType": "M-2.95,0H2.95", "symbolSize": 400, "symbolStrokeWidth": 3.5,
      "padding": 6, "rowPadding": 7, "symbolOffset": 88, "labelOffset": 21,
      "strokeColor": "#262626", "fillColor": "white",
      "labelExpr": "datum.label + '\u00a0\u00a0\u00a0\u00a0\u00a0\u00a0\u00a0\u00a0\u00a0\u00a0\u00a0\u200b'", "labelLimit": 1000}}
 }},
{"data": {"name": "LW"}, "mark": {"type": "line", "strokeWidth": 3.8, "clip": true},
 "encoding": {"x": {"field": "f", "type": "quantitative", "axis": null}, "y": {"field": "v", "type": "quantitative", "axis": null}, "color": {"datum": "LW", "type": "nominal"}}},
{"data": {"name": "ER"}, "mark": {"type": "line", "strokeWidth": 3.8, "clip": true},
 "encoding": {"x": {"field": "f", "type": "quantitative", "axis": null}, "y": {"field": "v", "type": "quantitative", "axis": null}, "color": {"datum": "ER", "type": "nominal"}}},
{"data": {"name": "SP"}, "mark": {"type": "line", "strokeWidth": 3.8, "clip": true},
 "encoding": {"x": {"field": "f", "type": "quantitative", "axis": null}, "y": {"field": "v", "type": "quantitative", "axis": null}, "color": {"datum": "Sound Power", "type": "nominal"}}},
{"data": {"name": "PIR"}, "mark": {"type": "line", "strokeWidth": 3.8, "clip": true},
 "encoding": {"x": {"field": "f", "type": "quantitative", "axis": null}, "y": {"field": "v", "type": "quantitative", "axis": null}, "color": {"datum": "PIR", "type": "nominal"}}},
{"data": {"name": "SPDI"}, "mark": {"type": "line", "strokeWidth": 3.8, "clip": true},
 "encoding": {"x": {"field": "f", "type": "quantitative", "axis": null}, "y": {"field": "v", "type": "quantitative", "axis": null}, "color": {"datum": "Sound Power DI", "type": "nominal"}}},
{"data": {"name": "ERDI"}, "mark": {"type": "line", "strokeWidth": 3.8, "clip": true},
 "encoding": {"x": {"field": "f", "type": "quantitative", "axis": null}, "y": {"field": "v", "type": "quantitative", "axis": null}, "color": {"datum": "ER DI", "type": "nominal"}}},
{"data": {"name": "REG"}, "mark": {"type": "line", "strokeWidth": 3.8, "clip": true},
 "encoding": {
  "x": {"field": "f", "type": "quantitative",
    "axis": {"orient": "top", "title": null, "labels": false, "grid": false, "domain": false,
      "values": [20,30,40,50,60,70,80,90,100,200,300,400,500,600,700,800,900,1000,2000,3000,4000,5000,6000,7000,8000,9000,10000,20000],
      "tickSize": {"condition": {"test": "datum.value == 100 || datum.value == 1000 || datum.value == 10000", "value": -23}, "value": -12}}},
  "y": {"field": "v", "type": "quantitative",
    "axis": {"orient": "right", "title": null, "labels": false, "grid": false, "domain": false, "values": [65,70,75,80,85,90], "tickSize": -23}},
  "color": {"datum": "PIR Regression", "type": "nominal"}}}
],
"resolve": {"axis": {"x": "independent", "y": "independent"}}
}
